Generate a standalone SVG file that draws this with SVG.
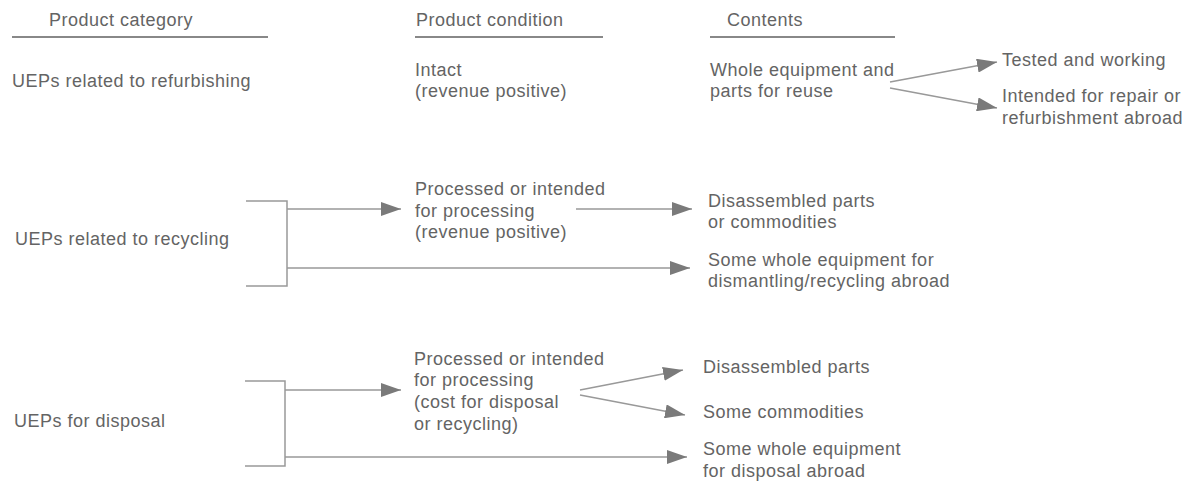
<svg xmlns="http://www.w3.org/2000/svg" width="1189" height="481" viewBox="0 0 1189 481">
<style>
text{font-family:"Liberation Sans",Arial,sans-serif;font-size:18px;fill:#646464;letter-spacing:0.5px}
.ln{stroke:#999;stroke-width:1.5;fill:none}
.hd{stroke:#888;stroke-width:2;fill:none}
.ar{stroke:#999;stroke-width:1.5;fill:none;marker-end:url(#ah)}
</style>
<defs>
<marker id="ah" markerUnits="userSpaceOnUse" markerWidth="20" markerHeight="14" refX="20" refY="7" orient="auto">
<path d="M0,0 L20,7 L0,14 z" fill="#7a7a7a"/>
</marker>
</defs>
<rect width="1189" height="481" fill="#fff"/>
<g id="headers">
<text x="49" y="26">Product category</text>
<line class="hd" x1="12" y1="37" x2="268" y2="37"/>
<text x="416" y="26">Product condition</text>
<line class="hd" x1="415" y1="37" x2="603" y2="37"/>
<text x="727" y="26">Contents</text>
<line class="hd" x1="710" y1="37" x2="895" y2="37"/>
</g>
<g id="cat-refurb"><text x="12" y="87">UEPs related to refurbishing</text></g>
<g id="cond-intact"><text x="415" y="76">Intact</text><text x="415" y="97">(revenue positive)</text></g>
<g id="cont-whole"><text x="710" y="76">Whole equipment and</text><text x="710" y="97">parts for reuse</text></g>
<g id="cont-tested"><text x="1002" y="66">Tested and working</text></g>
<g id="cont-repair"><text x="1002" y="102">Intended for repair or</text><text x="1002" y="124">refurbishment abroad</text></g>
<g id="cat-recycling"><text x="15" y="245">UEPs related to recycling</text></g>
<g id="cond-processed1"><text x="415" y="195">Processed or intended</text><text x="415" y="217">for processing</text><text x="415" y="238">(revenue positive)</text></g>
<g id="cont-disparts1"><text x="708" y="207">Disassembled parts</text><text x="708" y="228">or commodities</text></g>
<g id="cont-dismantle"><text x="708" y="266">Some whole equipment for</text><text x="708" y="287">dismantling/recycling abroad</text></g>
<g id="cat-disposal"><text x="14" y="427">UEPs for disposal</text></g>
<g id="cond-processed2"><text x="414" y="365">Processed or intended</text><text x="414" y="386">for processing</text><text x="414" y="408">(cost for disposal</text><text x="414" y="430">or recycling)</text></g>
<g id="cont-disparts2"><text x="703" y="373">Disassembled parts</text></g>
<g id="cont-commod"><text x="703" y="418">Some commodities</text></g>
<g id="cont-disposal"><text x="703" y="455">Some whole equipment</text><text x="703" y="477">for disposal abroad</text></g>
<g id="connectors">
<path class="ar" d="M890,82 L997,62"/>
<path class="ar" d="M890,88 L997,108"/>
<path class="ln" d="M246,201 L287,201 L287,286 L246,286"/>
<path class="ar" d="M287,209 L401,209"/>
<path class="ar" d="M287,268 L690,268"/>
<path class="ar" d="M576,209 L692,209"/>
<path class="ln" d="M245,381 L285,381 L285,466 L245,466"/>
<path class="ar" d="M285,390 L401,390"/>
<path class="ar" d="M285,457 L687,457"/>
<path class="ar" d="M580,390 L683,370"/>
<path class="ar" d="M580,395 L685,415"/>
</g>
</svg>
